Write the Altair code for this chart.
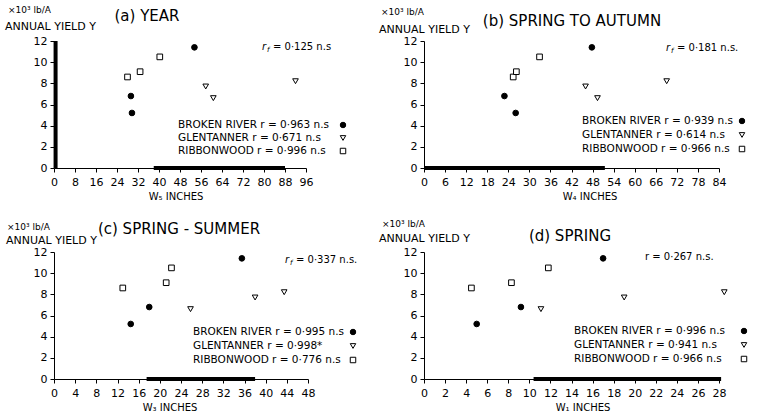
import altair as alt
import pandas as pd

FONT = "DejaVu Sans"

sites = ["BROKEN RIVER", "GLENTANNER", "RIBBONWOOD"]

# Annual yield Y (x10^3 lb/A), same three years at each site
yield_br = [5.2, 6.8, 11.4]
yield_gt = [6.6, 7.7, 8.2]
yield_rw = [8.6, 9.1, 10.5]

# water (inches) for each period
w5_br = [29.7, 29.3, 53.5]
w5_gt = [60.7, 57.8, 92.0]
w5_rw = [28.0, 32.8, 40.3]

w4_br = [26.1, 22.9, 47.8]
w4_gt = [49.4, 46.0, 69.1]
w4_rw = [25.4, 26.3, 32.9]

w3_br = [14.5, 18.0, 35.5]
w3_gt = [25.8, 38.0, 43.5]
w3_rw = [13.0, 21.2, 22.2]

w1_br = [5.0, 9.2, 17.0]
w1_gt = [11.1, 19.0, 28.5]
w1_rw = [4.5, 8.3, 11.8]

titles = ["(a) YEAR", "(b) SPRING TO AUTUMN", "(c) SPRING - SUMMER", "(d) SPRING"]
x_titles = ["W\u2085 INCHES", "W\u2084 INCHES", "W\u2083 INCHES", "W\u2081 INCHES"]
x_max = [96, 84, 48, 28]
x_step = [8, 6, 4, 2]
y_ticks = [0, 2, 4, 6, 8, 10, 12]

r_br = ["0\u00b7963 n.s", "0\u00b7939 n.s", "0\u00b7995 n.s", "0\u00b7996 n.s"]
r_gt = ["0\u00b7671 n.s", "0\u00b7614 n.s", "0\u00b7998*", "0\u00b7941 n.s"]
r_rw = ["0\u00b7996 n.s", "0\u00b7966 n.s", "0\u00b7776 n.s", "0\u00b7966 n.s"]
r_pooled = ["0\u00b7125 n.s", "0\u00b7181 n.s.", "0\u00b7337 n.s.", "0\u00b7267 n.s."]
r_sub = ["f", "f", "f", ""]

# heavy (over-inked) stretches of the printed axes, in data units
heavy_x = [(38, 88), (0, 51.5), (17.5, 38), (10.4, 28.2)]
heavy_y = [True, False, False, False]

# layout (pixel offsets relative to each plot's origin)
widths = [252, 295, 254, 295]
H = 127
title_pos = [(93, -25), (148, -20), (125, -23), (146, -16)]
unit_pos = [(-46, -31, -49, -14), (-43, -29, -45, -11), (-47, -25, -48, -11), (-42, -28, -45, -13)]
xlab_pos = [122, 166, 116, 159]
legend_x = [124, 158, 139, 150]
legend_y = [(84, 97, 110), (80, 94, 108), (80, 94, 108), (79, 93, 107)]
marker_x = [289, 318, 299, 320]
rf_pos = [(208, 6), (242, 7), (231, 8), (221, 5)]

xs_all = [(w5_br, w5_gt, w5_rw), (w4_br, w4_gt, w4_rw), (w3_br, w3_gt, w3_rw), (w1_br, w1_gt, w1_rw)]

shape_scale = alt.Scale(domain=sites, range=["circle", "triangle-down", "square"])
fill_scale = alt.Scale(domain=sites, range=["black", "white", "white"])


def one():
    return alt.Chart(alt.Data(values=[{}]))


def txt(s, x, y, size, align="left", style="normal"):
    return one().mark_text(text=s, align=align, baseline="middle", font=FONT,
                           fontSize=size, fontStyle=style, color="black").encode(
        x=alt.value(x), y=alt.value(y))


def panel(i):
    xb, xg, xr = xs_all[i]
    rows = []
    for site, xs, ys in zip(sites, (xb, xg, xr), (yield_br, yield_gt, yield_rw)):
        for xv, yv in zip(xs, ys):
            rows.append({"site": site, "w": xv, "y": yv})
    df = pd.DataFrame(rows)
    xs_scale = alt.Scale(domain=[0, x_max[i]], nice=False, zero=True)
    ys_scale = alt.Scale(domain=[0, 12], nice=False)
    ticks = list(range(0, x_max[i] + 1, x_step[i]))
    x_axis = alt.Axis(values=ticks, title=None, labelPadding=4, labelFlush=False, format="d")
    y_axis = alt.Axis(values=y_ticks, title=None, labelPadding=3, format="d")

    layers = []
    pts = alt.Chart(df).mark_point(stroke="black", strokeWidth=1, opacity=1,
                                   fillOpacity=1, size=32).encode(
        x=alt.X("w:Q", scale=xs_scale, axis=x_axis),
        y=alt.Y("y:Q", scale=ys_scale, axis=y_axis),
        shape=alt.Shape("site:N", scale=shape_scale, legend=None),
        fill=alt.Fill("site:N", scale=fill_scale, legend=None),
    )
    layers.append(pts)

    # heavy axis stretches
    h0, h1 = heavy_x[i]
    layers.append(one().mark_rule(color="black", strokeWidth=4).encode(
        x=alt.X(datum=h0, type="quantitative", scale=xs_scale, axis=x_axis),
        x2=alt.X2(datum=h1),
        y=alt.Y(datum=0, type="quantitative", scale=ys_scale, axis=y_axis)))
    if heavy_y[i]:
        layers.append(one().mark_rule(color="black", strokeWidth=4).encode(
            x=alt.X(datum=0.6, type="quantitative", scale=xs_scale, axis=x_axis),
            y=alt.Y(datum=0, type="quantitative", scale=ys_scale, axis=y_axis),
            y2=alt.Y2(datum=12)))

    # texts
    tx, ty = title_pos[i]
    layers.append(txt(titles[i], tx, ty, 15, align="center"))
    ux, uy, ax, ay = unit_pos[i]
    layers.append(txt("\u00d710\u00b3 lb/A", ux, uy, 9))
    layers.append(txt("ANNUAL YIELD Y", ax, ay, 11))
    layers.append(txt(x_titles[i], xlab_pos[i], H + 29, 10, align="center"))

    lines = [
        "BROKEN RIVER  r = " + r_br[i],
        "GLENTANNER  r = " + r_gt[i],
        "RIBBONWOOD  r = " + r_rw[i],
    ]
    shapes = ["circle", "triangle-down", "square"]
    fills = ["black", "white", "white"]
    for ln, ly, shp, fl in zip(lines, legend_y[i], shapes, fills):
        layers.append(txt(ln, legend_x[i], ly, 10.5))
        layers.append(one().mark_point(shape=shp, fill=fl, stroke="black",
                                       strokeWidth=1, size=30, opacity=1,
                                       fillOpacity=1).encode(
            x=alt.value(marker_x[i]), y=alt.value(ly)))

    rx, ry = rf_pos[i]
    if r_sub[i]:
        layers.append(txt("r", rx, ry, 10, style="italic"))
        layers.append(txt(r_sub[i], rx + 5, ry + 3, 7, style="italic"))
        layers.append(txt("= " + r_pooled[i], rx + 11, ry, 10))
    else:
        layers.append(txt("r = " + r_pooled[i], rx, ry, 10))

    return alt.layer(*layers).properties(width=widths[i], height=H)


chart = alt.concat(panel(0), panel(1), panel(2), panel(3), columns=2).properties(
    spacing={"row": 84, "column": 75},
    bounds="flush",
    align="all",
    padding={"left": 5, "top": 6, "right": 0, "bottom": 0},
    background="white",
).configure_axis(
    domainColor="black", tickColor="black", labelColor="black",
    labelFont=FONT, labelFontSize=11, grid=False, tickSize=4, domainWidth=1,
).configure_view(stroke=None)

chart.save("out.html", embed_options={"renderer": "svg", "actions": False})
